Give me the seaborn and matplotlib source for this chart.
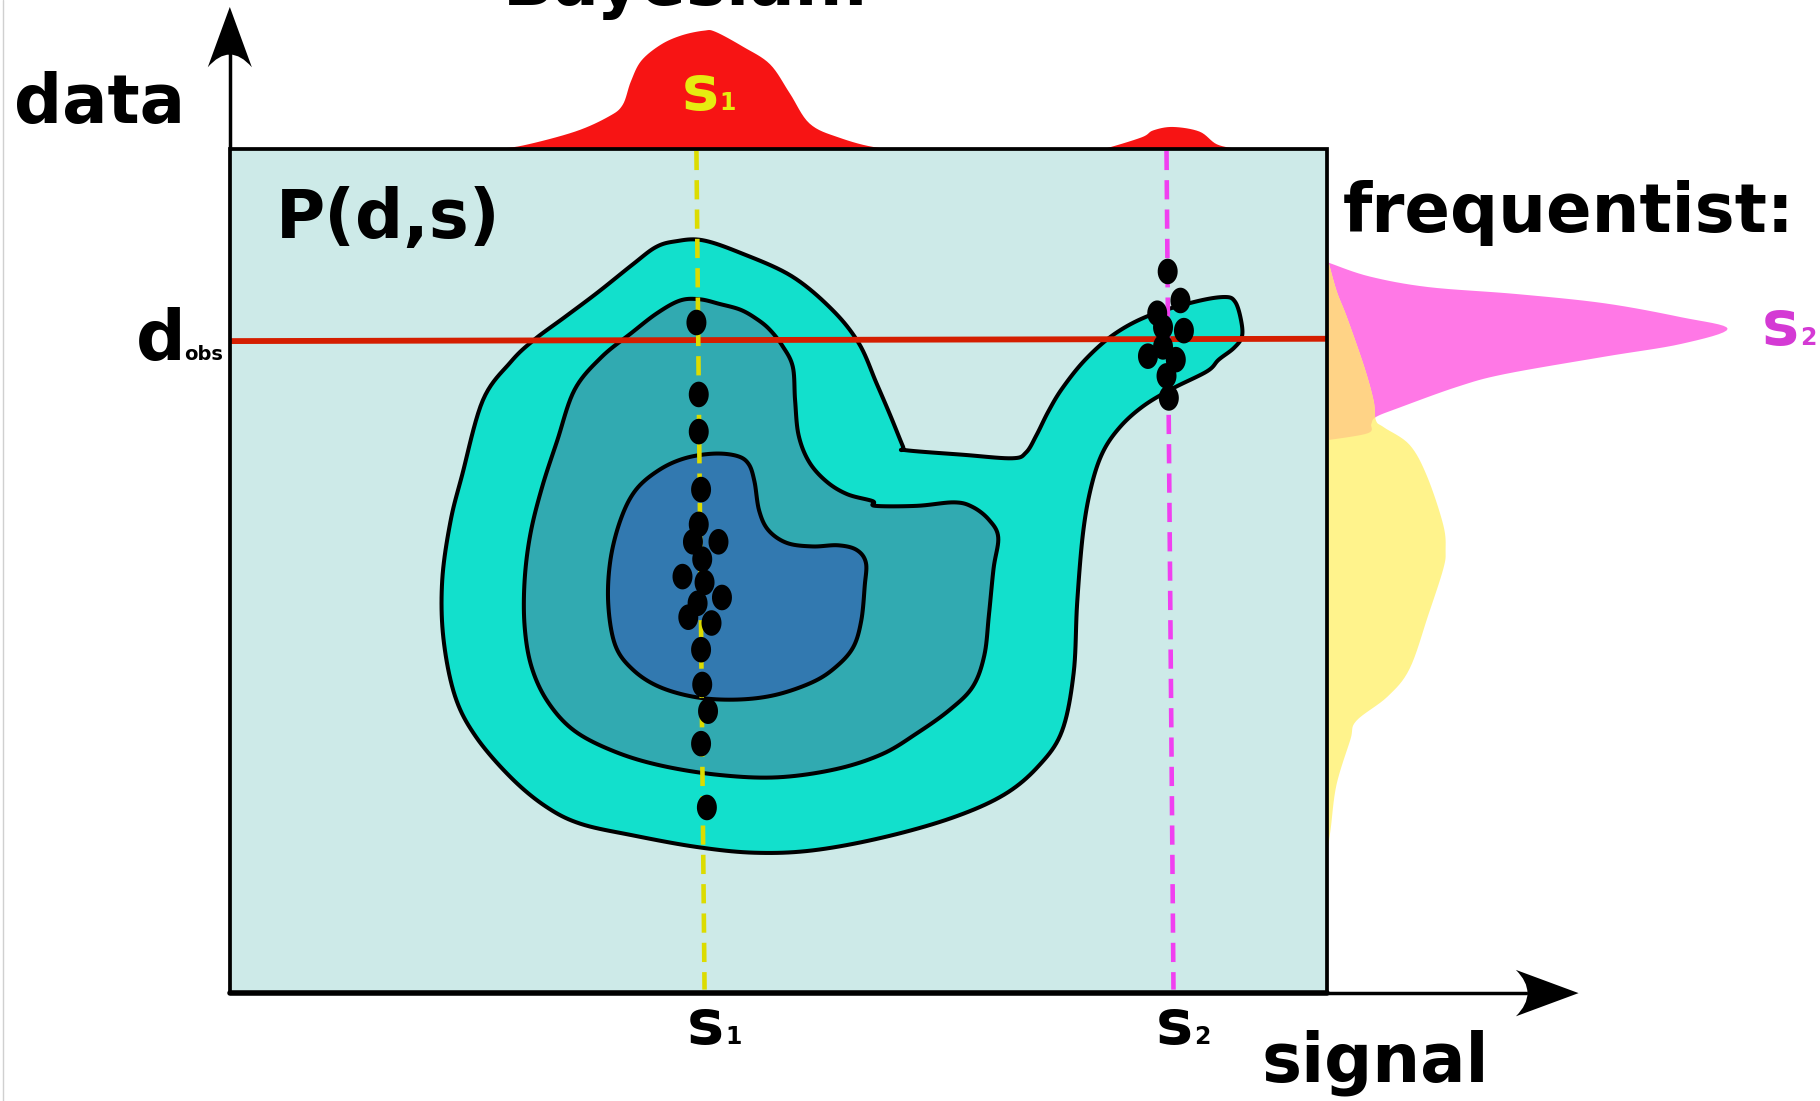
import numpy as np
import pandas as pd
import matplotlib
matplotlib.use("Agg")
import matplotlib.pyplot as plt
import seaborn as sns
from matplotlib.path import Path
from matplotlib.patches import PathPatch, Rectangle

# Chart style
sns.set_style("white")
plt.rcParams["font.family"] = ["DejaVu Sans"]
plt.rcParams["text.color"] = "black"

# ==========================================================
# DATA (drawing units: 1568 x 949 canvas, y grows downward)
# ==========================================================

# joint density P(d,s): three nested contour outlines
outer_xy = [(582, 208), (605, 207), (638, 218), (682, 238), (717, 267), (740, 296),
            (755, 330), (767, 358), (778, 385), (780, 388), (830, 392), (872, 395),
            (884, 390), (893, 375), (903, 355), (915, 335), (935, 310), (960, 288),
            (990, 272), (1030, 260), (1055, 256), (1064, 260), (1069, 275), (1070, 290),
            (1063, 300), (1050, 310), (1040, 320), (1010, 335), (985, 350), (965, 368),
            (950, 390), (940, 420), (933, 460), (928, 520), (925, 580), (915, 630),
            (895, 660), (865, 685), (820, 705), (760, 722), (700, 733), (650, 735),
            (600, 730), (545, 720), (500, 710), (470, 695), (440, 670), (410, 635),
            (392, 600), (382, 550), (381, 500), (388, 450), (398, 410), (416, 345),
            (440, 312), (460, 293), (487, 273), (515, 252), (545, 228), (565, 213)]

middle_xy = [(586, 259), (603, 258), (620, 262), (638, 267), (652, 275), (663, 284),
             (674, 298), (683, 316), (685, 345), (688, 375), (697, 398), (712, 415),
             (730, 426), (752, 432), (754, 436), (790, 436), (822, 433), (838, 437),
             (852, 448), (860, 463), (856, 490), (852, 530), (848, 565), (838, 592),
             (818, 612), (790, 632), (760, 650), (720, 663), (670, 670), (620, 668),
             (570, 660), (530, 648), (495, 630), (472, 605), (458, 575), (452, 540),
             (452, 500), (457, 460), (467, 420), (480, 380), (495, 336), (518, 308),
             (544, 287), (566, 270)]

inner_xy = [(590, 395), (615, 391), (635, 393), (645, 400), (650, 415), (654, 440),
            (662, 457), (678, 468), (700, 471), (722, 470), (738, 474), (746, 485),
            (745, 505), (742, 535), (735, 558), (720, 575), (700, 588), (668, 599),
            (635, 603), (600, 601), (568, 592), (545, 577), (530, 556), (524, 520),
            (526, 482), (535, 447), (548, 422), (568, 405)]

# draws of the data for s1 and s2
s1_dots_x = [600, 602, 602, 604, 602, 597, 619, 605, 588, 607, 622, 601, 593, 613,
             604, 605, 610, 604, 609]
s1_dots_y = [278, 340, 372, 422, 452, 467, 467, 482, 497, 502, 515, 520, 532, 537,
             560, 590, 613, 641, 696]
s2_dots_x = [1006, 1017, 997, 1002, 1020, 1002, 989, 1013, 1005, 1007]
s2_dots_y = [234, 259, 270, 282, 285, 299, 307, 310, 324, 343]

# Bayesian posterior over the signal (height above the frame)
post_x = [425, 450, 495, 524, 536, 543, 552, 569, 587, 606, 616, 640, 663, 680, 697,
          722, 757, 800, 940, 950, 983, 993, 1010, 1033, 1048, 1066]
post_h = [0, 3, 15, 28, 38, 58, 76, 90, 98, 102, 101, 88, 73, 48, 22,
          10, 1, 0, 0, 0, 10, 16, 19, 15, 4, 0]

# frequentist sampling distributions of the data (width right of the frame)
yel_y = [221, 250, 273, 316, 345, 362, 368, 383, 410, 452, 474, 490, 530, 576, 600,
         621, 637, 676, 714, 735]
yel_w = [0, 8, 17, 32, 40, 42, 49, 71, 86, 100, 102, 100, 87, 71, 52,
         25, 20, 8, 3, 0]
pink_y = [225, 227, 238, 247, 253, 261, 273, 283, 296, 307, 322, 333, 351, 359, 365,
          373, 379]
pink_w = [0, 4, 37, 87, 163, 239, 305, 345, 305, 239, 153, 112, 62, 42, 38, 35, 0]

d_obs = 293
s1_line = [(600, 130), (607, 853)]
s2_line = [(1005, 130), (1011, 853)]


def smooth(pts, closed=False, n=10):
    # Catmull-Rom curve through the given outline points
    P = np.asarray(pts, float)
    if closed:
        P = np.vstack([P[-1], P, P[0], P[1]])
    else:
        P = np.vstack([P[0], P, P[-1]])
    t = np.linspace(0, 1, n, endpoint=False)[:, None]
    out = []
    for i in range(1, len(P) - 2):
        p0, p1, p2, p3 = P[i - 1], P[i], P[i + 1], P[i + 2]
        out.append(0.5 * (2 * p1 + (-p0 + p2) * t
                          + (2 * p0 - 5 * p1 + 4 * p2 - p3) * t ** 2
                          + (-p0 + 3 * p1 - 3 * p2 + p3) * t ** 3))
    out.append(P[-2][None])
    return np.vstack(out)


# ==========================================================
# FIGURE
# ==========================================================

fig = plt.figure(figsize=(18.2, 11.01), dpi=100)
ax = fig.add_axes([0, 0, 1, 1])

box_l, box_r, box_t, box_b = 198, 1143, 128, 856

# frame background
ax.add_patch(Rectangle((box_l, box_t), box_r - box_l, box_b - box_t,
                       facecolor="#cdeae8", edgecolor="none", zorder=1))

# contours
for pts, col in [(outer_xy, "#12e0cc"), (middle_xy, "#31aab1"), (inner_xy, "#3279b0")]:
    c = smooth(pts, closed=True)
    ax.fill(c[:, 0], c[:, 1], facecolor=col, edgecolor="black", linewidth=2.9,
            joinstyle="round", zorder=2)

# observed data line
ax.plot([box_l, box_r], [d_obs + 1, d_obs - 1], color="#d41e00", linewidth=4.2,
        solid_capstyle="butt", zorder=3)

# dashed signal lines
ax.plot(*zip(*s1_line), color="#dcdc00", linewidth=3.3, dashes=(4.2, 2.2), zorder=4)
ax.plot(*zip(*s2_line), color="#f040f0", linewidth=3.3, dashes=(4.2, 2.2), zorder=4)

# draws (ellipse markers)
t = np.linspace(0, 2 * np.pi, 40)
ell = Path(np.column_stack([0.78 * np.cos(t), np.sin(t)]))
dots = pd.DataFrame({
    "x": s1_dots_x + s2_dots_x,
    "y": s1_dots_y + s2_dots_y,
})
sns.scatterplot(data=dots, x="x", y="y", ax=ax, marker=ell, s=340,
                color="black", edgecolor="none", zorder=5)

# posterior on top
post = smooth(list(zip(post_x, post_h)), n=8)
ax.fill_between(post[:, 0], box_t, box_t - np.clip(post[:, 1], 0, None),
                color="#f71414", linewidth=0, zorder=1)

# sampling distributions on the right
pink = smooth(list(zip(pink_y, pink_w)), n=8)
yel = smooth(list(zip(yel_y, yel_w)), n=8)
ax.fill_betweenx(pink[:, 0], box_r, box_r + pink[:, 1], color="#ff78e6", linewidth=0, zorder=1)
ax.fill_betweenx(yel[:, 0], box_r, box_r + yel[:, 1], color="#fff38c", linewidth=0, zorder=1)
grid = np.linspace(221, 379, 400)
overlap = np.minimum(np.interp(grid, yel[:, 0], yel[:, 1]),
                     np.interp(grid, pink[:, 0], pink[:, 1]))
ax.fill_betweenx(grid, box_r, box_r + overlap, color="#ffd386", linewidth=0, zorder=1)

# frame border
ax.add_patch(Rectangle((box_l, box_t), box_r - box_l, box_b - box_t,
                       facecolor="none", edgecolor="black", linewidth=2.7, zorder=6))
ax.plot([box_l, box_r], [box_b, box_b], color="black", linewidth=4, zorder=6)

# axis arrows
ax.plot([box_l, box_l], [box_t, 45], color="black", linewidth=2.5, zorder=6)
ax.plot([box_r, 1315], [box_b, box_b], color="black", linewidth=2.5, zorder=6)
head_up = Path([(198, 6), (217, 58), (198, 36), (179, 58), (198, 6)],
               [Path.MOVETO, Path.LINETO, Path.CURVE3, Path.CURVE3, Path.LINETO])
head_right = Path([(1360, 856), (1306, 876), (1326, 856), (1306, 836), (1360, 856)],
                  [Path.MOVETO, Path.LINETO, Path.CURVE3, Path.CURVE3, Path.LINETO])
for hp in (head_up, head_right):
    ax.add_patch(PathPatch(hp, facecolor="black", edgecolor="none", zorder=7))

# left page edge
ax.plot([3, 3], [0, 949], color="#d0d0d0", linewidth=1, zorder=0)

# texts
big = dict(fontsize=48.5, fontweight="bold", color="black", ha="left", va="baseline", zorder=8)
ax.text(12, 106, "data", **big)
ax.text(433, 4, "Bayesian:", **big)
ax.text(238, 205, "P(d,s)", **big)
ax.text(1157, 200, "frequentist:", **big)
ax.text(1087, 932, "signal", **big)

ax.text(117, 310, "d", fontsize=50, fontweight="bold", color="black", ha="left", va="baseline")
ax.text(159, 310, "obs", fontsize=14, fontweight="bold", color="black", ha="left", va="baseline")


def s_label(x, y, sub, color):
    ax.text(x, y, "s", fontsize=45, fontweight="bold", color=color,
            ha="left", va="baseline", zorder=8)
    ax.text(x + 33, y, sub, fontsize=17, fontweight="bold", color=color,
            ha="left", va="baseline", zorder=8)


s_label(592, 900, "1", "black")
s_label(996, 900, "2", "black")
s_label(587, 95, "1", "#e6ec10")
s_label(1518, 297, "2", "#d43ad4")

ax.set_xlim(0, 1568)
ax.set_ylim(949, 0)
ax.axis("off")

fig.savefig("out.png", dpi=100)
